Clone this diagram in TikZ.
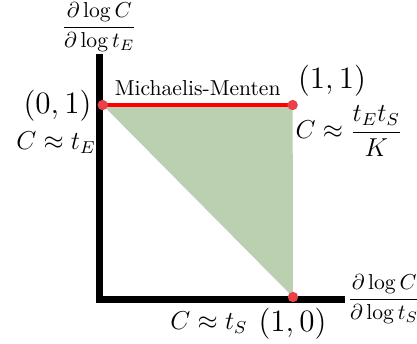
\documentclass[tikz,border=0pt]{standalone}
\usepackage{amsmath,amssymb}
\usepackage{tikz}
\usetikzlibrary{backgrounds}
\definecolor{regiongreen}{RGB}{187,208,176}
\definecolor{dotred}{RGB}{232,66,72}

\begin{document}
\begin{tikzpicture}[font=\normalsize,
  vertex/.style={circle,fill=dotred,inner sep=0pt,minimum size=4.8pt}]
  \useasboundingbox (0,0) rectangle (6.785,5.581);
  % Corner points
  \coordinate (O)    at (1.616,0.711);
  \coordinate (Ytop) at (1.616,4.702);
  \coordinate (Xend) at (5.613,0.711);
  % Axes
  \draw[line width=3pt] (Ytop) -- (O) -- (Xend);
  % Vertices
  \node[vertex] (P01) at (1.671,3.872) {};
  \node[vertex] (P11) at (4.762,3.872) {};
  \node[vertex] (P10) at (4.767,0.748) {};
  \begin{scope}[on background layer]
    % Feasible region
    \fill[regiongreen] (P01.center) -- (P11.center) -- (P10.center) -- cycle;
    % Michaelis-Menten edge
    \draw[red,line width=2pt] (P01.center) -- (P11.center)
      node[midway,above,text=black] {Michaelis-Menten};
  \end{scope}
  % Axis labels
  \node[anchor=south,inner sep=1pt] (ylab) at (Ytop) {$\dfrac{\partial\log C}{\partial\log t_E}$};
  \node[anchor=west,inner sep=1pt] (xlab) at (Xend) {$\dfrac{\partial\log C}{\partial\log t_S}$};
  % Vertex labels
  \node[font=\Large] (l01) at (0.936,3.856) {$(0,1)$};
  \node[font=\large] (c01) at (0.911,3.254) {$C\approx t_E$};
  \node[font=\Large] (l11) at (5.402,4.263) {$(1,1)$};
  \node[font=\large] (c11) at (5.678,3.449) {$C\approx\dfrac{t_Et_S}{K}$};
  \node[font=\Large] (l10) at (4.759,0.317) {$(1,0)$};
  \node[font=\large] (c10) at (3.40,0.33) {$C\approx t_S$};
\end{tikzpicture}
\end{document}
